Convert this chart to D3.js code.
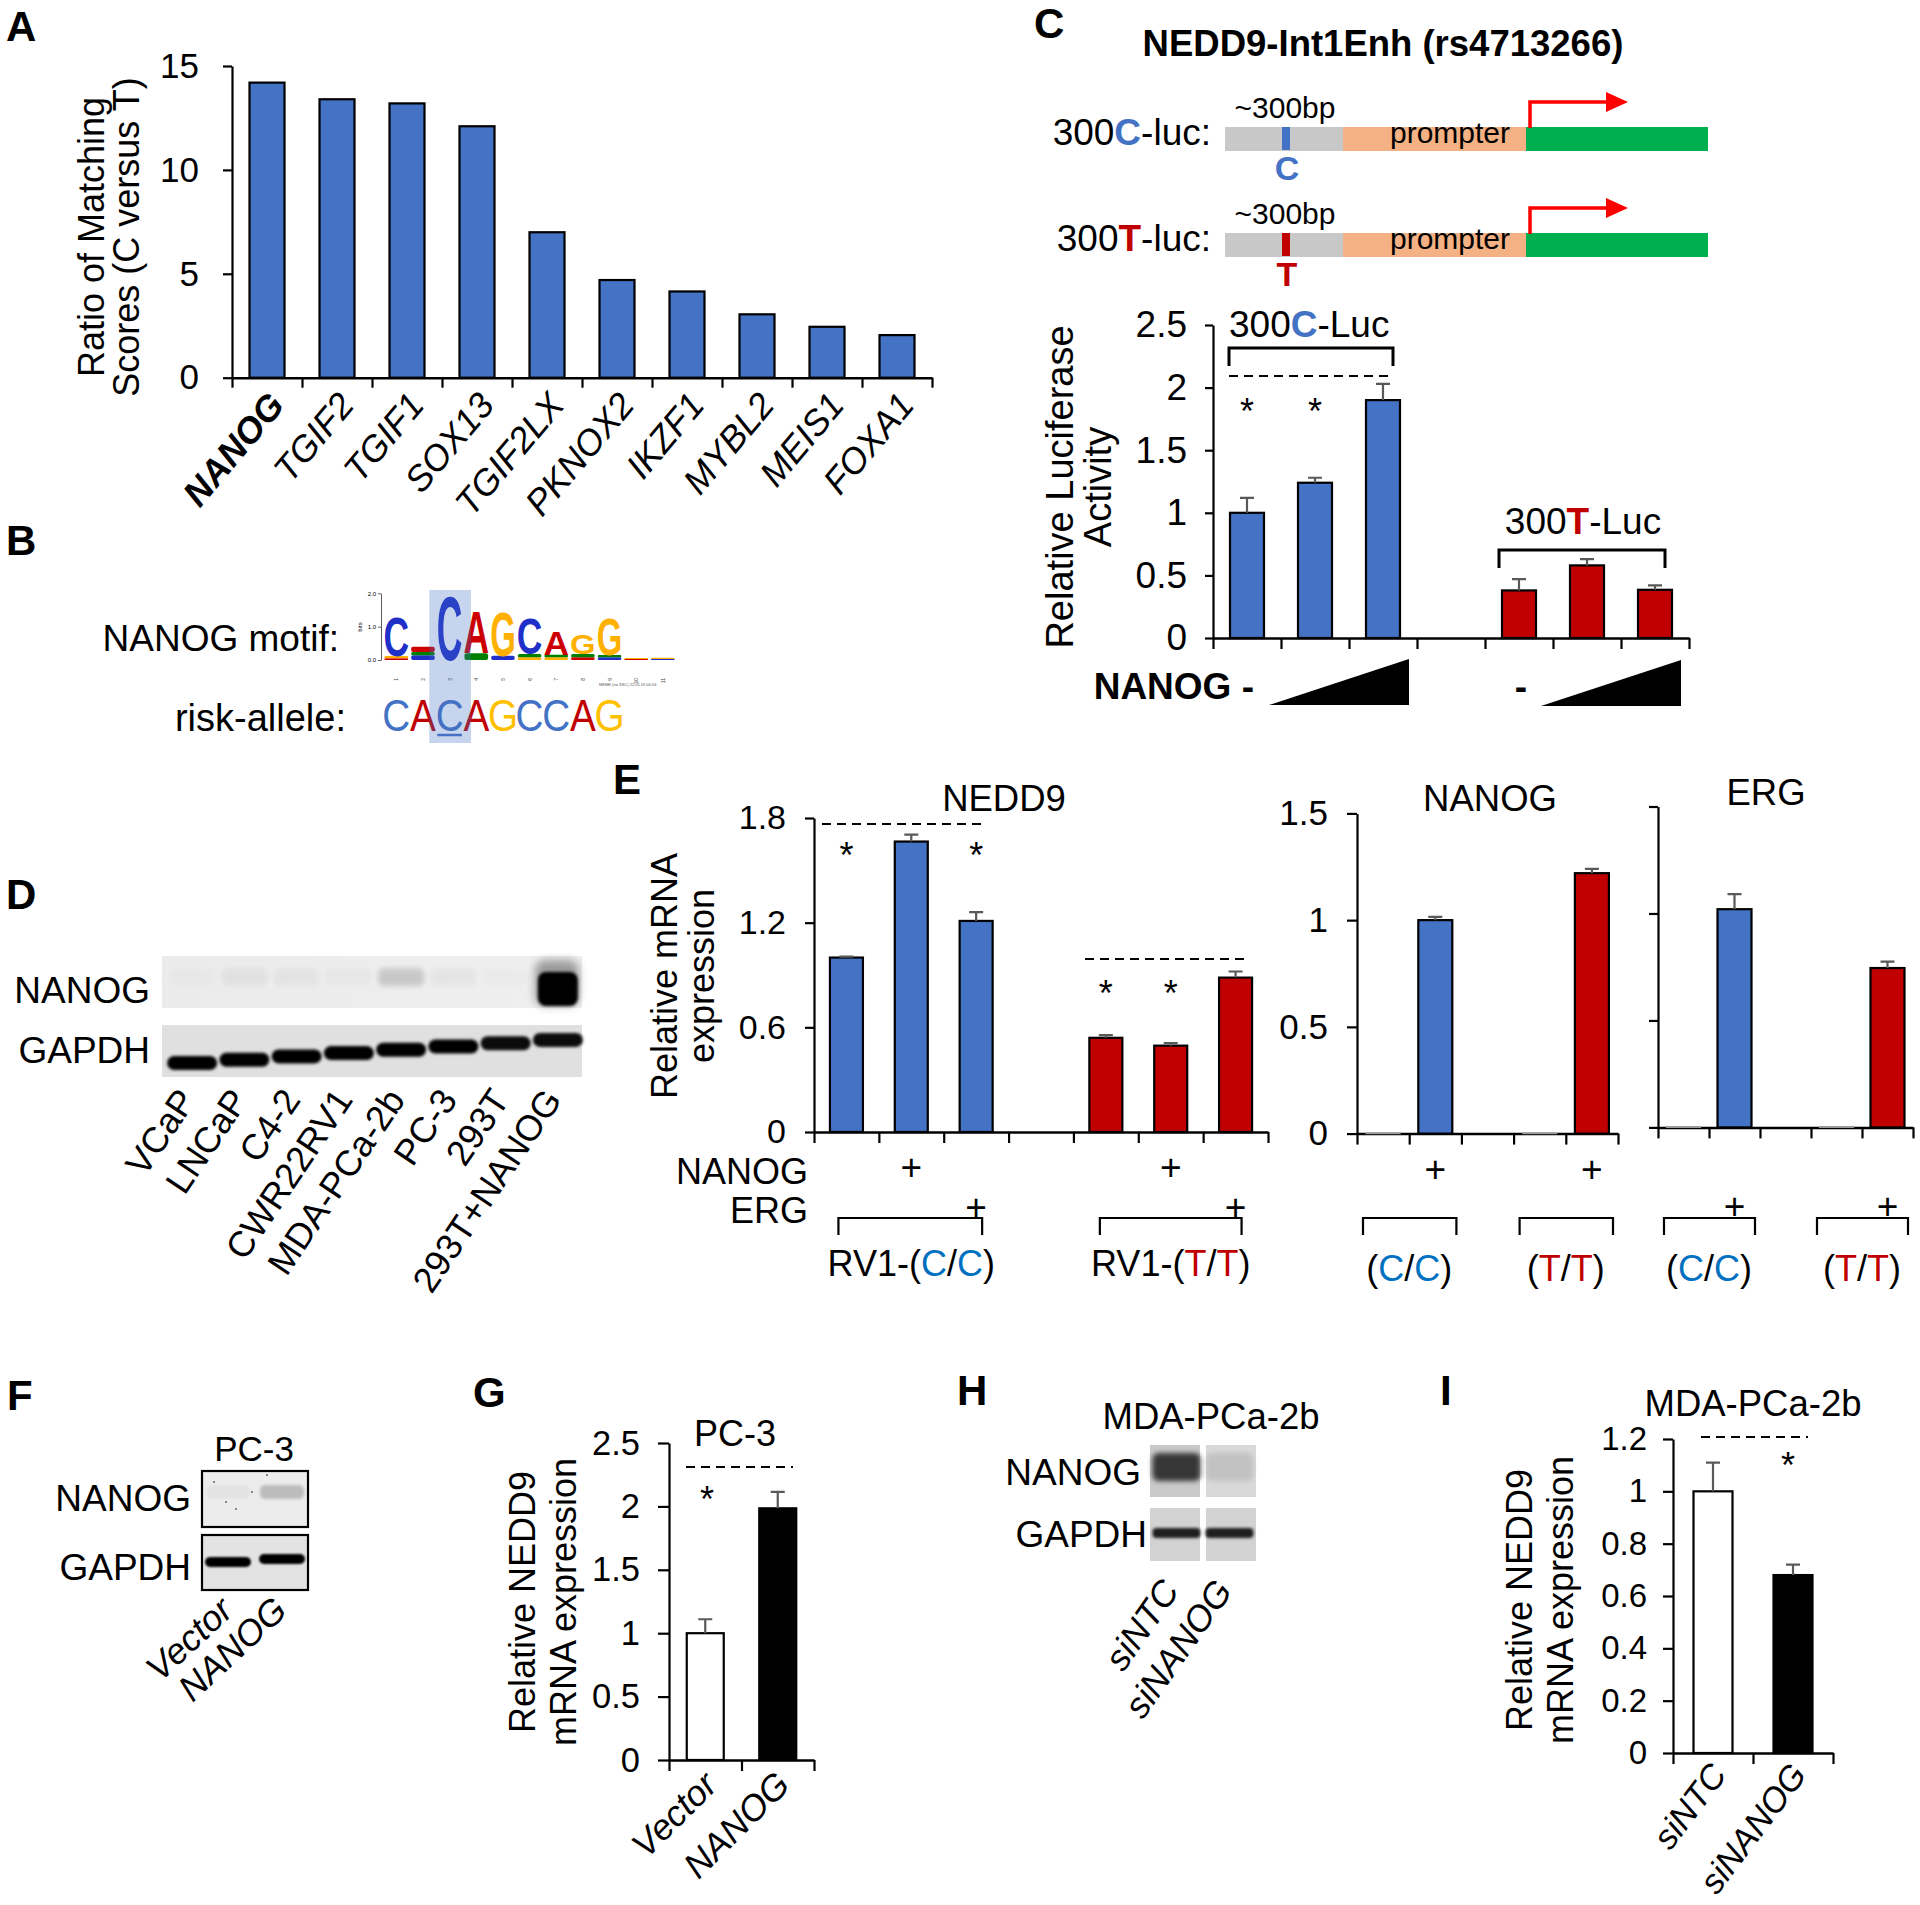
<!DOCTYPE html>
<html><head><meta charset="utf-8">
<script src="https://cdn.jsdelivr.net/npm/d3@7"></script>
<style>
body{margin:0;background:#fff}
svg text{font-family:"Liberation Sans",Arial,Helvetica,sans-serif}
</style>
</head><body>
<svg id="fig" width="1920" height="1905" xmlns="http://www.w3.org/2000/svg"></svg>
<script>
// ---------------- DATA ----------------
const aCategories = ["NANOG","TGIF2","TGIF1","SOX13","TGIF2LX","PKNOX2","IKZF1","MYBL2","MEIS1","FOXA1"];
const aValues = [14.2,13.4,13.2,12.1,7.0,4.7,4.15,3.05,2.45,2.05];
const aTicks = [0,5,10,15];

const motifColumns = [
  [["A",0.05],["G",0.07],["C",1.22]],
  [["C",0.14],["T",0.1],["A",0.16]],
  [["C",1.97]],
  [["T",0.2],["A",1.28]],
  [["C",0.13],["G",1.37]],
  [["G",0.08],["T",0.1],["C",1.1]],
  [["G",0.08],["T",0.08],["A",0.72]],
  [["A",0.08],["T",0.1],["G",0.62]],
  [["C",0.08],["T",0.07],["G",1.15]],
  [["A",0.03],["G",0.03]],
  [["C",0.03],["G",0.04]]
];
const logoTicks = [0,1,2];
const riskAllele = ["C","A","C","A","G","C","C","A","G"];
const snpIndex = 2;

const cValues = [1.0,1.24,1.9,null,0.38,0.58,0.385];
const cErrors = [0.12,0.04,0.13,null,0.09,0.05,0.035];
const cAlleles = ["C","C","C",null,"T","T","T"];
const cTicks = [0,0.5,1,1.5,2,2.5];

const dLanes = ["VCaP","LNCaP","C4-2","CWR22RV1","MDA-PCa-2b","PC-3","293T","293T+NANOG"];
const dNanog = [0.01,0.04,0.03,0.02,0.15,0.03,0.01,1.0];
const dGapdh = [1,1,1,1,1,1,0.95,0.95];

const eNedd9Values = [1.0,1.665,1.21,null,0.54,0.495,0.885];
const eNedd9Errors = [0.005,0.04,0.05,null,0.015,0.015,0.035];
const eNedd9Alleles = ["C","C","C",null,"T","T","T"];
const eNedd9NanogRow = ["","+","",null,"","+",""];
const eNedd9ErgRow = ["","","+",null,"","","+"];
const eNedd9Ticks = [0,0.6,1.2,1.8];
const eNanogValues = [0.003,1.0,null,0.003,1.22];
const eNanogErrors = [0,0.015,null,0,0.02];
const eNanogAlleles = ["C","C",null,"T","T"];
const eNanogRow = ["","+",null,"","+"];
const eNanogTicks = [0,0.5,1,1.5];
const eErgValues = [0.003,1.02,null,0.003,0.745];
const eErgErrors = [0,0.07,null,0,0.03];
const eErgAlleles = ["C","C",null,"T","T"];
const eErgRow = ["","+",null,"","+"];
const eErgTicks = [0,0.5,1,1.5];

const fLanes = ["Vector","NANOG"];
const fNanog = [0.03,0.2];
const fGapdh = [1,1];

const gCategories = ["Vector","NANOG"];
const gValues = [1.0,1.985];
const gErrors = [0.11,0.13];
const gTicks = [0,0.5,1,1.5,2,2.5];

const hLanes = ["siNTC","siNANOG"];
const hNanog = [0.85,0.12];
const hGapdh = [0.85,0.85];

const iCategories = ["siNTC","siNANOG"];
const iValues = [1.0,0.68];
const iErrors = [0.11,0.04];
const iTicks = [0,0.2,0.4,0.6,0.8,1,1.2];

// ---------------- STYLE ----------------
const BLUE="#4472C4", RED="#C00000", CBLUE="#0070C0", ERRC="#595959";
const FF='"Liberation Sans", Arial, Helvetica, sans-serif';
const alleleFill = a => a==="C"?BLUE:(a==="T"?RED:"#fff");

const svg = d3.select("#fig");
const defs = svg.append("defs");
[1,1.5,2.5,4].forEach((s,k)=>{
  defs.append("filter").attr("id","blur"+k).attr("x","-50%").attr("y","-80%").attr("width","200%").attr("height","260%")
    .append("feGaussianBlur").attr("stdDeviation",s);
});

function txt(g,x,y,s,o={}){
  const t=g.append("text").attr("x",x).attr("y",y).text(s)
    .attr("font-size",o.size||32).attr("text-anchor",o.anchor||"start").attr("fill",o.fill||"#000");
  if(o.weight) t.attr("font-weight",o.weight);
  if(o.style) t.attr("font-style",o.style);
  if(o.rotate!=null) t.attr("transform",`rotate(${o.rotate},${x},${y})`);
  return t;
}
function rich(g,x,y,parts,o={}){
  const t=g.append("text").attr("x",x).attr("y",y).attr("font-size",o.size||32).attr("text-anchor",o.anchor||"start");
  if(o.weight) t.attr("font-weight",o.weight);
  parts.forEach(p=>{const ts=t.append("tspan").text(p[0]).attr("fill",p[1]||"#000"); if(p[2]) ts.attr("font-weight",p[2]);});
  return t;
}
function dashed(g,x1,x2,y){
  g.append("line").attr("x1",x1).attr("x2",x2).attr("y1",y).attr("y2",y)
   .attr("stroke","#000").attr("stroke-width",2).attr("stroke-dasharray","9,6");
}
function star(g,cx,cy){ txt(g,cx,cy+20,"*",{size:36,anchor:"middle"}); }
function bracket(g,x1,x2,yTop,yBot,w){
  g.append("path").attr("d",`M${x1},${yBot}V${yTop}H${x2}V${yBot}`).attr("fill","none")
   .attr("stroke","#000").attr("stroke-width",w||2.2);
}
function vtitle(g,x,yc,lines,size,gap){
  const t=g.append("text").attr("font-size",size).attr("text-anchor","middle").attr("transform",`translate(${x},${yc}) rotate(-90)`);
  lines.forEach((l,i)=>t.append("tspan").attr("x",0).attr("y",i*gap).text(l));
}

function barChart(g,cfg){
  const n=cfg.values.length;
  const y=d3.scaleLinear().domain([0,cfg.max]).range([cfg.y0,cfg.y1]);
  const xb=d3.scaleBand().domain(d3.range(n)).range([cfg.x0,cfg.x1]);
  const xl=d3.scaleLinear().domain([0,n]).range([cfg.x0,cfg.x1]);
  const yAxis=d3.axisLeft(y).tickValues(cfg.ticks).tickSize(cfg.tickLen||9).tickSizeOuter(0).tickPadding(cfg.pad||14)
    .tickFormat(cfg.noLabels?(()=>""):(d=>String(d)));
  const ya=g.append("g").attr("transform",`translate(${cfg.x0},0)`).call(yAxis)
    .attr("font-family",FF).attr("font-size",cfg.fs||31);
  ya.select(".domain").attr("stroke","#000").attr("stroke-width",2.2);
  ya.selectAll(".tick line").attr("stroke","#000").attr("stroke-width",2.2);
  ya.selectAll(".tick text").attr("fill","#000");
  const xAxis=d3.axisBottom(xl).tickValues(d3.range(n+1)).tickSize(cfg.xTick||11).tickSizeOuter(0).tickFormat(()=>"");
  const xa=g.append("g").attr("transform",`translate(0,${cfg.y0})`).call(xAxis);
  xa.select(".domain").attr("stroke","#000").attr("stroke-width",2.5);
  xa.selectAll(".tick line").attr("stroke","#000").attr("stroke-width",2.2);
  const idx=d3.range(n).filter(i=>cfg.values[i]!=null);
  const cx=i=>xb(i)+xb.bandwidth()/2;
  g.selectAll(null).data(idx).join("rect")
    .attr("x",i=>cx(i)-cfg.bw/2).attr("y",i=>y(cfg.values[i]))
    .attr("width",cfg.bw).attr("height",i=>cfg.y0-y(cfg.values[i]))
    .attr("fill",i=>cfg.fills[i])
    .attr("stroke",i=>(cfg.y0-y(cfg.values[i]))<3?"#9a9a9a":"#000")
    .attr("stroke-width",i=>(cfg.y0-y(cfg.values[i]))<3?1.2:2.2);
  if(cfg.errors){
    const ei=idx.filter(i=>cfg.errors[i]>0);
    g.selectAll(null).data(ei).join("path")
      .attr("d",i=>{const v=cfg.values[i],e=cfg.errors[i];return `M${cx(i)},${y(v)}V${y(v+e)}M${cx(i)-7},${y(v+e)}H${cx(i)+7}`;})
      .attr("stroke",ERRC).attr("stroke-width",2.2).attr("fill","none");
  }
  return {x:xb,cx,y,xl};
}
function rotLabels(g,names,cx,yy,o){
  names.forEach((s,i)=>{
    const x=cx(i)+o.dx;
    const t=txt(g,x,yy,s,{size:o.size||32,anchor:"end",style:o.style,rotate:o.rot});
    if(o.bold&&o.bold(i)) t.attr("font-weight","bold");
  });
}

// panel letters
[["A",6,41],["B",6,555],["C",1034,38],["D",6,909],["E",613,794],["F",7,1410],["G",473,1407],["H",957,1405],["I",1440,1405]]
 .forEach(([l,x,y])=>txt(svg,x,y,l,{size:42,weight:"bold"}));

// ---------------- PANEL A ----------------
{
  const g=svg.append("g");
  const ch=barChart(g,{x0:232,x1:932,y0:377.7,y1:66,max:15,ticks:aTicks,values:aValues,
    fills:aValues.map(()=>BLUE),bw:35,fs:35,pad:24,tickLen:9,xTick:10});
  rotLabels(g,aCategories,ch.cx,406,{dx:19,rot:-50,style:"italic",size:36,bold:i=>i===0});
  vtitle(g,104,237,["Ratio of Matching","Scores (C versus T)"],36,35);
}

// ---------------- PANEL B ----------------
{
  const g=svg.append("g");
  txt(g,339,651,"NANOG motif:",{size:37,anchor:"end"});
  txt(g,346,731,"risk-allele:",{size:38,anchor:"end"});
  const colW=26.65;
  const xL=d3.scaleBand().domain(d3.range(motifColumns.length)).range([383,383+colW*motifColumns.length]);
  const yL=d3.scaleLinear().domain([0,2]).range([660,593.3]);
  const la=g.append("g").attr("transform","translate(381,0)")
    .call(d3.axisLeft(yL).tickValues(logoTicks).tickSize(3).tickPadding(2).tickSizeOuter(0))
    .attr("font-family",FF).attr("font-size",6);
  la.selectAll("path,line").attr("stroke","#333").attr("stroke-width",0.8);
  txt(g,362,627,"bits",{size:6,anchor:"middle",rotate:-90});
  const logoColor={A:"#CC0000",C:"#1F2FC8",G:"#FFB000",T:"#008000"};
  motifColumns.forEach((col,i)=>{
    let base=0;
    col.forEach(([L,h])=>{
      const yb=yL(base), yt=yL(base+h), ph=yb-yt;
      base+=h;
      if(ph<0.4) return;
      if(ph<8){
        // letters this small read as a coloured smear in the logo
        g.append("rect").attr("x",xL(i)+1.5).attr("y",yt).attr("width",colW-3).attr("height",ph)
          .attr("rx",Math.min(2,ph/2)).attr("fill",logoColor[L]);
        return;
      }
      const t=g.append("text").text(L).attr("font-size",100).attr("font-weight","bold")
        .attr("text-anchor","middle").attr("fill",logoColor[L]);
      const w=t.node().getComputedTextLength();
      t.attr("transform",`translate(${xL(i)+colW/2},${yb}) scale(${colW*0.96/w},${ph/73})`);
    });
    txt(g,xL(i)+colW/2+2,678,String(i+1),{size:5,anchor:"end",rotate:-90,fill:"#444"});
  });
  txt(g,599,686,"MEME (no SSC) 22.05.19 00:04",{size:4,fill:"#555"});
  // sequence
  riskAllele.forEach((L,i)=>{
    const cx=xL(i)+colW/2;
    txt(g,0,0,L,{size:45,anchor:"middle",fill:L==="C"?BLUE:(L==="A"?RED:"#FFC000")})
      .attr("transform",`translate(${cx},731) scale(0.86,1)`);
  });
  g.append("line").attr("x1",xL(snpIndex)+1).attr("x2",xL(snpIndex)+colW-1).attr("y1",735).attr("y2",735)
    .attr("stroke",BLUE).attr("stroke-width",2.5);
  g.append("rect").attr("x",xL(snpIndex)-7).attr("y",590).attr("width",colW+15).attr("height",153)
    .attr("fill",BLUE).attr("fill-opacity",0.3);
}

// ---------------- PANEL C ----------------
{
  const g=svg.append("g");
  txt(g,1383,56,"NEDD9-Int1Enh (rs4713266)",{size:36.5,weight:"bold",anchor:"middle"});
  const rows=[{a:"C",col:BLUE,dy:0},{a:"T",col:RED,dy:106}];
  rows.forEach(r=>{
    const d=r.dy;
    g.append("rect").attr("x",1225).attr("y",127+d).attr("width",118).attr("height",24).attr("fill","#C8C8C8");
    g.append("rect").attr("x",1343).attr("y",127+d).attr("width",183).attr("height",24).attr("fill","#F4B183");
    g.append("rect").attr("x",1526).attr("y",127+d).attr("width",182).attr("height",24).attr("fill","#00B050");
    g.append("rect").attr("x",1282).attr("y",127+d).attr("width",8).attr("height",23).attr("fill",r.col);
    txt(g,1287,180+d,r.a,{size:34,weight:"bold",anchor:"middle",fill:r.col});
    txt(g,1285,118+d,"~300bp",{size:30,anchor:"middle"});
    txt(g,1450,143+d,"prompter",{size:30,anchor:"middle"});
    rich(g,1211,145+d,[["300"],[r.a,r.col,"bold"],["-luc:"]],{size:37,anchor:"end"});
    g.append("path").attr("d",`M1530,${128+d}V${102+d}H1608`).attr("fill","none").attr("stroke","#FF0000").attr("stroke-width",3.5);
    g.append("path").attr("d",`M1606,${92+d}L1628,${102+d}L1606,${112+d}Z`).attr("fill","#FF0000");
  });
  const ch=barChart(g,{x0:1213,x1:1689,y0:638,y1:325,max:2.5,ticks:cTicks,values:cValues,errors:cErrors,
    fills:cAlleles.map(alleleFill),bw:34,fs:37,pad:18,tickLen:8,xTick:11});
  vtitle(g,1073,487,["Relative Luciferase","Activity"],38,38);
  rich(g,1229,337,[["300"],["C",BLUE,"bold"],["-Luc"]],{size:37});
  bracket(g,1229,1393,348,366,3);
  dashed(g,1229,1390,376);
  star(g,ch.cx(0),404); star(g,ch.cx(1),404);
  rich(g,1583,534,[["300"],["T",RED,"bold"],["-Luc"]],{size:37,anchor:"middle"});
  bracket(g,1499,1665,550,568,3);
  txt(g,1254,699,"NANOG -",{size:37,weight:"bold",anchor:"end"});
  txt(g,1521,699,"-",{size:37,weight:"bold",anchor:"middle"});
  g.append("path").attr("d","M1269,705L1409,659V705Z").attr("fill","#000");
  g.append("path").attr("d","M1541,706L1681,660V706Z").attr("fill","#000");
}

// ---------------- PANEL D (blot) ----------------
{
  const g=svg.append("g");
  const x=d3.scaleBand().domain(dLanes).range([166,584]);
  const bg1=defs.append("linearGradient").attr("id","dbg1");
  bg1.append("stop").attr("offset","0").attr("stop-color","#ebebeb");
  bg1.append("stop").attr("offset","1").attr("stop-color","#efefef");
  g.append("rect").attr("x",162).attr("y",956).attr("width",420).attr("height",52).attr("fill","url(#dbg1)");
  g.append("rect").attr("x",162).attr("y",1025).attr("width",420).attr("height",52).attr("fill","#e0e0e0");
  dLanes.forEach((l,i)=>{
    const cx=x(l)+x.bandwidth()/2;
    const yc=1063-i*3.3;
    g.append("rect").attr("x",cx-25).attr("y",yc-7).attr("width",50).attr("height",14).attr("rx",7)
      .attr("fill","#000").attr("opacity",dGapdh[i]).attr("filter","url(#blur1)");
    if(dNanog[i]>0.5){
      g.append("rect").attr("x",cx-23).attr("y",960).attr("width",44).attr("height",46).attr("rx",10)
        .attr("fill","#000").attr("opacity",0.35).attr("filter","url(#blur3)");
      g.append("rect").attr("x",cx-20).attr("y",972).attr("width",40).attr("height",34).attr("rx",8)
        .attr("fill","#000").attr("opacity",dNanog[i]).attr("filter","url(#blur1)");
    } else {
      g.append("rect").attr("x",cx-23).attr("y",968).attr("width",46).attr("height",18).attr("rx",6)
        .attr("fill","#000").attr("opacity",dNanog[i]).attr("filter","url(#blur2)");
    }
  });
  txt(g,150,1003,"NANOG",{size:37,anchor:"end"});
  txt(g,150,1063,"GAPDH",{size:37,anchor:"end"});
  rotLabels(g,dLanes,i=>x(dLanes[i])+x.bandwidth()/2,1100,{dx:5,rot:-56,size:36});
}

// ---------------- PANEL E ----------------
{
  const g=svg.append("g");
  const c1=barChart(g,{x0:814,x1:1268,y0:1132,y1:818,max:1.8,ticks:eNedd9Ticks,values:eNedd9Values,errors:eNedd9Errors,
    fills:eNedd9Alleles.map(alleleFill),bw:33,fs:34,pad:19,tickLen:9,xTick:11});
  const c2=barChart(g,{x0:1357,x1:1618,y0:1133.6,y1:813.4,max:1.5,ticks:eNanogTicks,values:eNanogValues,errors:eNanogErrors,
    fills:eNanogAlleles.map(alleleFill),bw:34,fs:35,pad:19,tickLen:10,xTick:11});
  const c3=barChart(g,{x0:1658,x1:1913,y0:1127.4,y1:806.5,max:1.5,ticks:eErgTicks,values:eErgValues,errors:eErgErrors,
    fills:eErgAlleles.map(alleleFill),bw:34,fs:35,noLabels:true,tickLen:9,xTick:11});
  txt(g,1004,811,"NEDD9",{size:36.5,anchor:"middle"});
  txt(g,1490,811,"NANOG",{size:36.5,anchor:"middle"});
  txt(g,1766,805,"ERG",{size:36.5,anchor:"middle"});
  vtitle(g,677,976,["Relative mRNA","expression"],36,37);
  dashed(g,822,986,824); dashed(g,1085,1249,959);
  star(g,c1.cx(0),848); star(g,c1.cx(2),848); star(g,c1.cx(4),986); star(g,c1.cx(5),986);
  txt(g,808,1184,"NANOG",{size:36,anchor:"end"});
  txt(g,808,1223,"ERG",{size:36,anchor:"end"});
  const plusRow=(rowArr,ch,yb)=>rowArr.forEach((s,i)=>{ if(s) txt(g,ch.cx(i),yb,s,{size:37,anchor:"middle"}); });
  plusRow(eNedd9NanogRow,c1,1180); plusRow(eNedd9ErgRow,c1,1220);
  plusRow(eNanogRow,c2,1182); plusRow(eErgRow,c3,1219);
  bracket(g,c1.cx(0)-8,c1.cx(2)+6,1218,1235);
  bracket(g,c1.cx(4)-6,c1.cx(6)+6,1218,1235);
  const grp=(ch,i0,i1)=>[ch.x(i0)+6,ch.x(i1)+ch.x.bandwidth()-5];
  [[c2,0,1],[c2,3,4],[c3,0,1],[c3,3,4]].forEach(([ch,a,b])=>{const [x1,x2]=grp(ch,a,b); bracket(g,x1,x2,1218,1235);});
  const lab=(cx,y,a,col,prefix)=>rich(g,cx,y,[[prefix+"("],[a,col],["/"],[a,col],[")"]],{size:36,anchor:"middle"});
  lab((c1.cx(0)+c1.cx(2))/2,1276,"C",CBLUE,"RV1-");
  lab((c1.cx(4)+c1.cx(6))/2,1276,"T",RED,"RV1-");
  lab((c2.cx(0)+c2.cx(1))/2,1281,"C",CBLUE,"");
  lab((c2.cx(3)+c2.cx(4))/2,1281,"T",RED,"");
  lab((c3.cx(0)+c3.cx(1))/2,1281,"C",CBLUE,"");
  lab((c3.cx(3)+c3.cx(4))/2,1281,"T",RED,"");
}

// ---------------- PANEL F (blot) ----------------
{
  const g=svg.append("g");
  const x=d3.scaleBand().domain(fLanes).range([201,309]);
  g.append("rect").attr("x",202).attr("y",1471).attr("width",106).attr("height",56).attr("fill","#ececec").attr("stroke","#000").attr("stroke-width",2.2);
  g.append("rect").attr("x",202).attr("y",1535).attr("width",106).attr("height",55).attr("fill","#e3e3e3").attr("stroke","#000").attr("stroke-width",2.2);
  fLanes.forEach((l,i)=>{
    const cx=x(l)+x.bandwidth()/2;
    g.append("rect").attr("x",cx-22).attr("y",1485).attr("width",44).attr("height",14).attr("rx",5)
      .attr("fill","#000").attr("opacity",fNanog[i]).attr("filter","url(#blur1)");
    g.append("rect").attr("x",cx-23).attr("y",1557-i*3).attr("width",46).attr("height",10).attr("rx",5)
      .attr("fill","#000").attr("opacity",fGapdh[i]).attr("filter","url(#blur0)");
  });
  [[214,1482],[226,1502],[236,1509],[252,1492],[267,1475]].forEach(([a,b])=>g.append("circle").attr("cx",a).attr("cy",b).attr("r",0.9).attr("fill","#555"));
  txt(g,254,1461,"PC-3",{size:35,anchor:"middle"});
  txt(g,191,1511,"NANOG",{size:37,anchor:"end"});
  txt(g,191,1580,"GAPDH",{size:37,anchor:"end"});
  rotLabels(g,fLanes,i=>x(fLanes[i])+x.bandwidth()/2,1613,{dx:7,rot:-43,size:36,style:"italic"});
}

// ---------------- PANEL G ----------------
{
  const g=svg.append("g");
  const ch=barChart(g,{x0:669,x1:814,y0:1760,y1:1443,max:2.5,ticks:gTicks,values:gValues,errors:gErrors,
    fills:["#fff","#000"],bw:37,fs:34.5,pad:18,tickLen:11,xTick:11});
  txt(g,735,1446,"PC-3",{size:36,anchor:"middle"});
  dashed(g,686,793,1467);
  star(g,707,1492);
  vtitle(g,535,1602,["Relative NEDD9","mRNA expression"],36,41);
  rotLabels(g,gCategories,ch.cx,1787,{dx:14,rot:-45,size:36,style:"italic"});
}

// ---------------- PANEL H (blot) ----------------
{
  const g=svg.append("g");
  const x=d3.scaleBand().domain(hLanes).range([1150,1256]);
  hLanes.forEach((l,i)=>{
    const x0=x(l)+(i?3:0), w=x.bandwidth()-3;
    g.append("rect").attr("x",x0).attr("y",1445).attr("width",w).attr("height",52).attr("fill",i?"#d9d9d9":"#c9c9c9");
    g.append("rect").attr("x",x0).attr("y",1508).attr("width",w).attr("height",53).attr("fill","#d2d2d2");
    const cx=x(l)+x.bandwidth()/2;
    g.append("rect").attr("x",cx-24).attr("y",1453).attr("width",48).attr("height",28).attr("rx",6)
      .attr("fill","#000").attr("opacity",hNanog[i]*0.85).attr("filter","url(#blur2)");
    g.append("rect").attr("x",cx-24).attr("y",1528).attr("width",48).attr("height",10).attr("rx",4)
      .attr("fill","#000").attr("opacity",hGapdh[i]).attr("filter","url(#blur1)");
  });
  txt(g,1211,1429,"MDA-PCa-2b",{size:36.5,anchor:"middle"});
  txt(g,1141,1485,"NANOG",{size:37,anchor:"end"});
  txt(g,1147,1547,"GAPDH",{size:37,anchor:"end"});
  rotLabels(g,hLanes,i=>x(hLanes[i])+x.bandwidth()/2,1591,{dx:4,rot:-55,size:36,style:"italic"});
}

// ---------------- PANEL I ----------------
{
  const g=svg.append("g");
  const ch=barChart(g,{x0:1673,x1:1833,y0:1753,y1:1439,max:1.2,ticks:iTicks,values:iValues,errors:iErrors,
    fills:["#fff","#000"],bw:39,fs:33,pad:16,tickLen:10,xTick:11});
  txt(g,1753,1416,"MDA-PCa-2b",{size:36.5,anchor:"middle"});
  dashed(g,1701,1808,1437);
  star(g,1788,1458);
  vtitle(g,1532,1600,["Relative NEDD9","mRNA expression"],36,41);
  rotLabels(g,iCategories,ch.cx,1775,{dx:15,rot:-53,size:34.5,style:"italic"});
}
</script>
</body></html>
